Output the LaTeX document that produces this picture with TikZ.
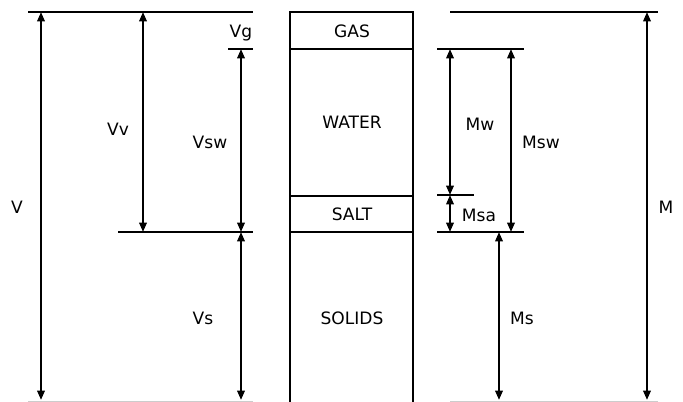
\documentclass[tikz,border=0pt]{standalone}
\usepackage{fontspec}
\setmainfont{DejaVu Sans}
\usetikzlibrary{arrows.meta}
\begin{document}
\begin{tikzpicture}[x=0.75pt,y=-0.75pt,line width=1.8pt,
  lab/.style={font=\fontsize{12.8}{15}\selectfont,inner sep=0pt,anchor=base},
  ddim/.style={line width=1.6pt,{Triangle[length=7pt,width=5.5pt]}-{Triangle[length=7pt,width=5.5pt]}},
  refline/.style={line width=1.8pt}]
\useasboundingbox (0,0) rectangle (683,401);
% column box
\draw (290,12) rectangle (413,403);
\draw (290,49) -- (413,49);
\draw (290,196) -- (413,196);
\draw (290,232) -- (413,232);
\node[lab] (gas) at (352,37) {GAS};
\node[lab] (water) at (352,128) {WATER};
\node[lab] (salt) at (352,220) {SALT};
\node[lab] (solids) at (352,324) {SOLIDS};
% reference lines left
\coordinate (lt1) at (28,12); \coordinate (lt2) at (253,12);
\coordinate (lg1) at (228,49); \coordinate (lg2) at (253,49);
\coordinate (lm1) at (118,232); \coordinate (lm2) at (253,232);
\coordinate (lb1) at (28,402.5); \coordinate (lb2) at (253,402.5);
\draw[refline] (lt1) -- (lt2);
\draw[refline] (lg1) -- (lg2);
\draw[refline] (lm1) -- (lm2);
\draw[refline,gray!40] (lb1) -- (lb2);
% reference lines right
\coordinate (rt1) at (450,12); \coordinate (rt2) at (658,12);
\coordinate (rw1) at (437,49); \coordinate (rw2) at (524,49);
\coordinate (ra1) at (437,195); \coordinate (ra2) at (474,195);
\coordinate (rs1) at (437,232); \coordinate (rs2) at (524,232);
\coordinate (rb1) at (450,402.5); \coordinate (rb2) at (658,402.5);
\draw[refline] (rt1) -- (rt2);
\draw[refline] (rw1) -- (rw2);
\draw[refline] (ra1) -- (ra2);
\draw[refline] (rs1) -- (rs2);
\draw[refline,gray!40] (rb1) -- (rb2);
% dimension end points
\coordinate (vA) at (41,12);  \coordinate (vB) at (41,400);
\coordinate (vvA) at (143,12); \coordinate (vvB) at (143,232);
\coordinate (vswA) at (241,49); \coordinate (vswB) at (241,232);
\coordinate (vsA) at (241,232); \coordinate (vsB) at (241,400);
\coordinate (mwA) at (450,49); \coordinate (mwB) at (450,195);
\coordinate (msaA) at (450,195); \coordinate (msaB) at (450,232);
\coordinate (mswA) at (511,49); \coordinate (mswB) at (511,232);
\coordinate (msA) at (499,232); \coordinate (msB) at (499,400);
\coordinate (mA) at (647,12); \coordinate (mB) at (647,400);
\draw[ddim] (vA) -- (vB);
\draw[ddim] (vvA) -- (vvB);
\draw[ddim] (vswA) -- (vswB);
\draw[ddim] (vsA) -- (vsB);
\draw[ddim] (mwA) -- (mwB);
\draw[ddim] (msaA) -- (msaB);
\draw[ddim] (mswA) -- (mswB);
\draw[ddim] (msA) -- (msB);
\draw[ddim] (mA) -- (mB);
% labels
\node[lab] (lV) at (17,213) {V};
\node[lab] (lVv) at (118,135) {Vv};
\node[lab] (lVg) at (241,37) {Vg};
\node[lab] (lVsw) at (210,148) {Vsw};
\node[lab] (lVs) at (203,324) {Vs};
\node[lab] (lMw) at (480,130) {Mw};
\node[lab] (lMsw) at (541,148) {Msw};
\node[lab] (lMsa) at (479,221) {Msa};
\node[lab] (lMs) at (522,324) {Ms};
\node[lab] (lM) at (666,213) {M};
\end{tikzpicture}
\end{document}
